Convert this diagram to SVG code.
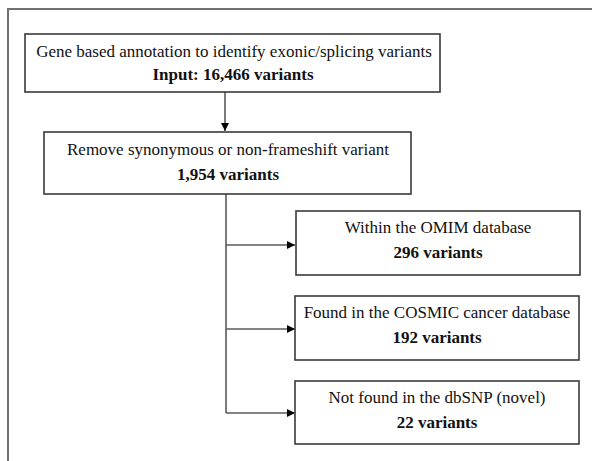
<svg xmlns="http://www.w3.org/2000/svg" width="592" height="461" viewBox="0 0 592 461">
  <style>
    .box { fill: #ffffff; stroke: #3a3a3a; stroke-width: 1.6; }
    .frame { fill: none; stroke: #707070; stroke-width: 2; }
    .link { fill: none; stroke: #5a5a5a; stroke-width: 1.6; }
    text { font-family: "Liberation Serif", "Times New Roman", serif; font-size: 17px; fill: #111; text-anchor: middle; }
    .b { font-weight: bold; }
  </style>
  <defs>
    <marker id="arrow" viewBox="0 0 10 10" refX="10" refY="5" markerWidth="9" markerHeight="8" markerUnits="userSpaceOnUse" orient="auto">
      <path d="M0,0 L10,5 L0,10 z" fill="#000"/>
    </marker>
  </defs>
  <rect width="592" height="461" fill="#ffffff"/>
  <!-- outer frame (top and left edges) -->
  <path class="frame" d="M8,461 L8,9 L592,9"/>

  <g id="connectors">
    <path class="link" d="M225,92 L225,131" marker-end="url(#arrow)"/>
    <path class="link" d="M226,194 L226,413"/>
    <path class="link" d="M226,245 L295,245" marker-end="url(#arrow)"/>
    <path class="link" d="M226,329 L295,329" marker-end="url(#arrow)"/>
    <path class="link" d="M226,413 L295,413" marker-end="url(#arrow)"/>
  </g>

  <g id="node-annotation">
    <rect class="box" x="25" y="34" width="415" height="58"/>
    <text x="234" y="57">Gene based annotation to identify exonic/splicing variants</text>
    <text class="b" x="233" y="80">Input: 16,466 variants</text>
  </g>
  <g id="node-remove">
    <rect class="box" x="44" y="132" width="367" height="62"/>
    <text x="228" y="155">Remove synonymous or non-frameshift variant</text>
    <text class="b" x="228" y="180">1,954 variants</text>
  </g>
  <g id="node-omim">
    <rect class="box" x="296" y="211" width="284" height="64"/>
    <text x="438" y="233">Within the OMIM database</text>
    <text class="b" x="438" y="258">296 variants</text>
  </g>
  <g id="node-cosmic">
    <rect class="box" x="295" y="296" width="284" height="64"/>
    <text x="437" y="318">Found in the COSMIC cancer database</text>
    <text class="b" x="437" y="343">192 variants</text>
  </g>
  <g id="node-dbsnp">
    <rect class="box" x="295" y="381" width="284" height="63"/>
    <text x="437" y="403">Not found in the dbSNP (novel)</text>
    <text class="b" x="437" y="428">22 variants</text>
  </g>
</svg>
